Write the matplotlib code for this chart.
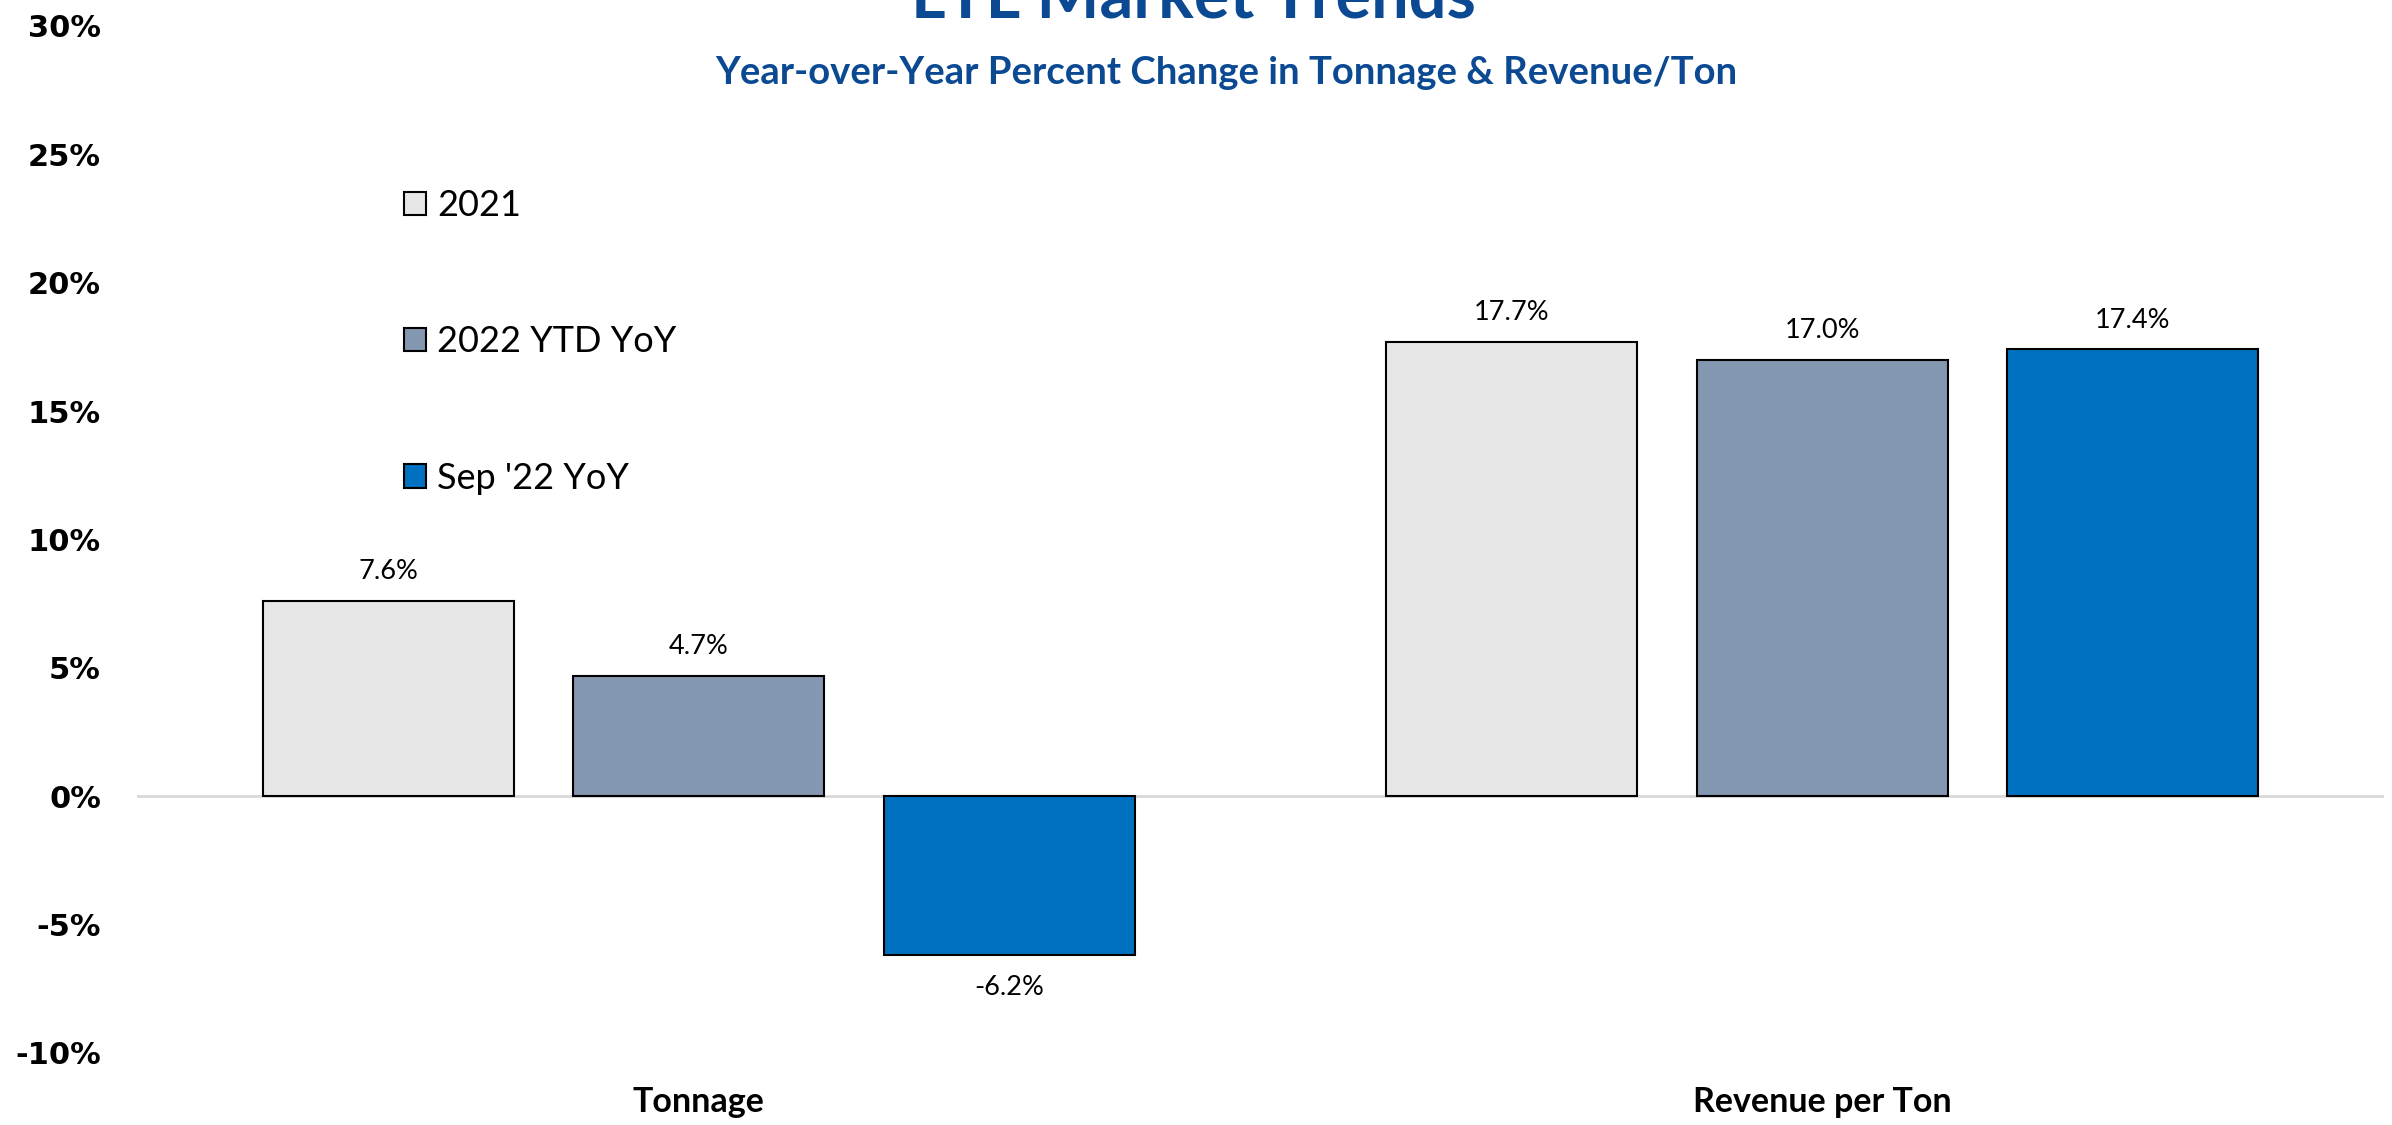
import numpy as np
import matplotlib
matplotlib.use('Agg')
import matplotlib.pyplot as plt
from matplotlib.patches import Patch

categories = ['Tonnage', 'Revenue per Ton']
series_names = ['2021', '2022 YTD YoY', "Sep '22 YoY"]
v2021 = [7.6, 17.7]
v2022_ytd = [4.7, 17.0]
vsep22 = [-6.2, 17.4]
yticks = [-10, -5, 0, 5, 10, 15, 20, 25, 30]

colors = ['#E6E6E6', '#8497B0', '#0070C0']
blue = '#0B4A92'
txt_font = ['Lato', 'DejaVu Sans']

fig = plt.figure(figsize=(23.92, 11.25), dpi=100)
ax = fig.add_axes([0.0573, 0.064, 0.9394, 0.913])

x = np.arange(len(categories))
width = 0.2234
step = 0.2763
for i, vals in enumerate([v2021, v2022_ytd, vsep22]):
    pos = x + (i - 1) * step
    ax.bar(pos, vals, width, color=colors[i], edgecolor='black', linewidth=1.5, zorder=2)
    for px, v in zip(pos, vals):
        off = 21 if v >= 0 else -23
        ax.annotate('%.1f%%' % v, (px, v), xytext=(0, off), textcoords='offset points',
                    ha='center', va='center', fontsize=19.5, family=txt_font)

ax.axhline(0, color='#D9D9D9', linewidth=2, zorder=1)
ax.set_xlim(-0.5, 1.5)
ax.set_ylim(-10, 30)
ax.set_yticks(yticks)
ax.set_yticklabels(['%d%%' % t for t in yticks], fontsize=22, fontweight='bold', family='DejaVu Sans')
ax.tick_params(axis='y', length=0, pad=26)
ax.set_xticks(x)
ax.set_xticklabels(categories, fontsize=24.5, fontweight='bold', family=txt_font)
ax.tick_params(axis='x', length=0, pad=24)
for s in ax.spines.values():
    s.set_visible(False)

handles = [Patch(facecolor=c, edgecolor='black', linewidth=1.5) for c in colors]
ax.legend(handles, series_names, loc='upper left', bbox_to_anchor=(404 / 2392, 1 - 189 / 1125),
          bbox_transform=fig.transFigure, frameon=False, prop={'family': txt_font, 'size': 26},
          handlelength=0.62, handleheight=0.62, handletextpad=0.3, labelspacing=2.86,
          borderpad=0, borderaxespad=0)

fig.text(0.499, 1 - 17 / 1125, 'LTL Market Trends', ha='center', va='baseline',
         fontsize=48, fontweight='bold', color=blue, family=txt_font)
fig.text(0.5125, 1 - 73 / 1125, 'Year-over-Year Percent Change in Tonnage & Revenue/Ton', ha='center',
         va='center', fontsize=27.5, fontweight='bold', color=blue, family=txt_font)

fig.savefig('out.png', dpi=100)
